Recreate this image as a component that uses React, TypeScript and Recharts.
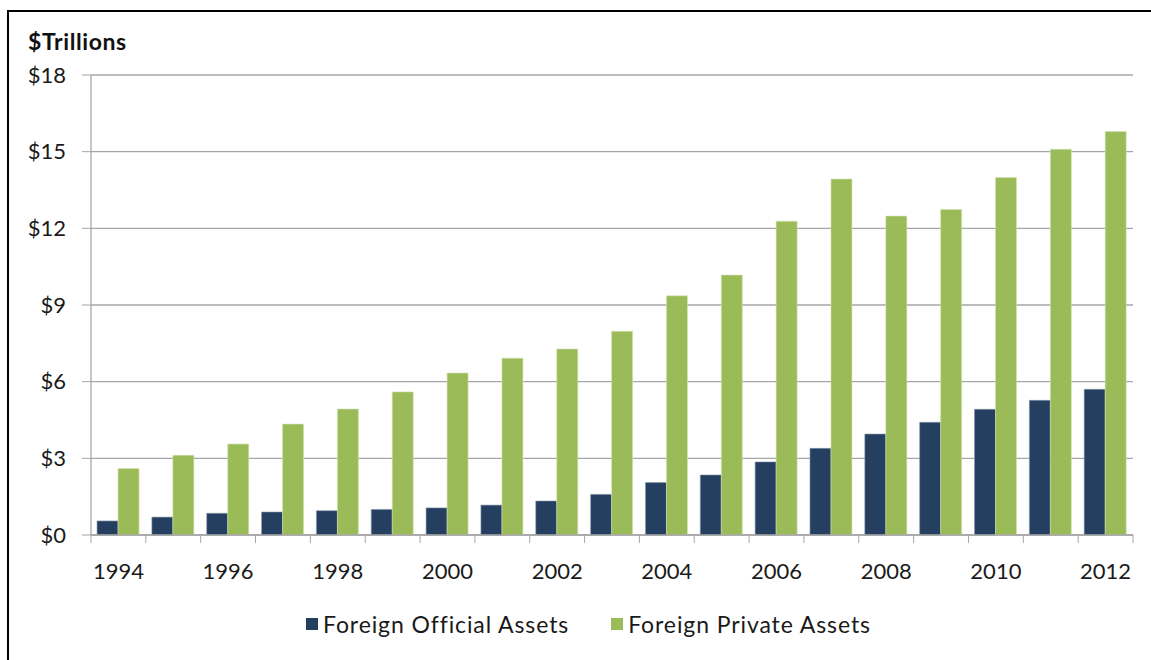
import React from 'react';
import { BarChart, Bar, XAxis, YAxis, CartesianGrid, Legend } from 'recharts';

const years = [
    '1994', '1995', '1996', '1997', '1998', '1999', '2000', '2001', '2002', '2003',
    '2004', '2005', '2006', '2007', '2008', '2009', '2010', '2011', '2012'
];
const officialAssets = [
    0.55, 0.70, 0.85, 0.90, 0.95, 1.0, 1.06, 1.17, 1.33, 1.59,
    2.05, 2.35, 2.86, 3.39, 3.95, 4.41, 4.92, 5.27, 5.70
];
const privateAssets = [
    2.6, 3.12, 3.56, 4.34, 4.93, 5.6, 6.34, 6.92, 7.28, 7.97,
    9.36, 10.17, 12.28, 13.93, 12.48, 12.74, 13.99, 15.09, 15.79
];
const yTicks = [0, 3, 6, 9, 12, 15, 18];

const data = years.map((year, i) => ({
    year,
    official: officialAssets[i],
    private: privateAssets[i]
}));

const CHART_W = 1151;
const CHART_H = 660;
const MARGIN = { top: 75, right: 18, bottom: 0, left: 21 };
const YAXIS_W = 70;
const XAXIS_H = 97;
const plotW = CHART_W - MARGIN.left - YAXIS_W - MARGIN.right;
const band = plotW / years.length;
const TICK_SIZE = 8;

const FONT = 'Lato, "Open Sans", sans-serif';
const NAVY = '#243F60';
const GREEN = '#9BBB59';
const GRID = '#A6A6A6';

const XTick = (props: any) => {
    const { x, y, index, payload } = props;
    const axisY = y - TICK_SIZE;
    const left = x - band / 2;
    return (
        <g>
            <line x1={left} y1={axisY} x2={left} y2={axisY + TICK_SIZE} stroke={GRID} />
            {index === years.length - 1 && (
                <line x1={x + band / 2} y1={axisY} x2={x + band / 2} y2={axisY + TICK_SIZE} stroke={GRID} />
            )}
            {index % 2 === 0 && (
                <text x={x} y={axisY + 44} textAnchor="middle" fontSize={22} fill="#1a1a1a" fontFamily={FONT}>
                    {payload.value}
                </text>
            )}
        </g>
    );
};

const LegendContent = () => {
    const items = [
        { label: 'Foreign Official Assets', color: NAVY },
        { label: 'Foreign Private Assets', color: GREEN }
    ];
    return (
        <div style={{ display: 'flex', gap: 42, fontFamily: FONT, fontSize: 23, letterSpacing: 0.9, color: '#1a1a1a' }}>
            {items.map((it) => (
                <div key={it.label} style={{ display: 'flex', alignItems: 'center', gap: 5 }}>
                    <span style={{ width: 12, height: 12, background: it.color, display: 'inline-block' }} />
                    <span>{it.label}</span>
                </div>
            ))}
        </div>
    );
};

export default function App() {
    return (
        <div style={{ position: 'absolute', left: 0, top: 0, width: CHART_W, height: CHART_H, overflow: 'hidden', background: '#fff' }}>
            <div style={{ position: 'absolute', left: 7, top: 10, width: 1200, height: 700, border: '2px solid #000' }} />
            <div style={{ position: 'absolute', left: 28, top: 27, fontFamily: FONT, fontWeight: 700, fontSize: 23, letterSpacing: 0.6, color: '#111' }}>
                $Trillions
            </div>
            <div style={{ position: 'absolute', left: 0, top: 0 }}>
                <BarChart
                    width={CHART_W}
                    height={CHART_H}
                    data={data}
                    margin={MARGIN}
                    barCategoryGap="11%"
                    barGap={0}
                >
                    <CartesianGrid vertical={false} stroke={GRID} strokeWidth={1.3} />
                    <XAxis
                        dataKey="year"
                        interval={0}
                        height={XAXIS_H}
                        tickSize={TICK_SIZE}
                        tickMargin={0}
                        tickLine={false}
                        axisLine={{ stroke: GRID, strokeWidth: 1.3 }}
                        tick={<XTick />}
                    />
                    <YAxis
                        width={YAXIS_W}
                        domain={[0, 18]}
                        ticks={yTicks}
                        interval={0}
                        tickSize={9}
                        tickMargin={16}
                        tickLine={{ stroke: GRID }}
                        axisLine={{ stroke: GRID, strokeWidth: 1.3 }}
                        tickFormatter={(v: number) => `$${v}`}
                        tick={{ fontSize: 22, fill: '#1a1a1a', fontFamily: FONT }}
                    />
                    <Legend
                        content={<LegendContent />}
                        wrapperStyle={{ position: 'absolute', top: 610, left: 306, width: 'auto' }}
                    />
                    <Bar dataKey="official" name="Foreign Official Assets" fill={NAVY} stroke="#8a98ab" strokeWidth={0.6} isAnimationActive={false} />
                    <Bar dataKey="private" name="Foreign Private Assets" fill={GREEN} stroke="#d2e2b4" strokeWidth={0.6} isAnimationActive={false} />
                </BarChart>
            </div>
        </div>
    );
}
